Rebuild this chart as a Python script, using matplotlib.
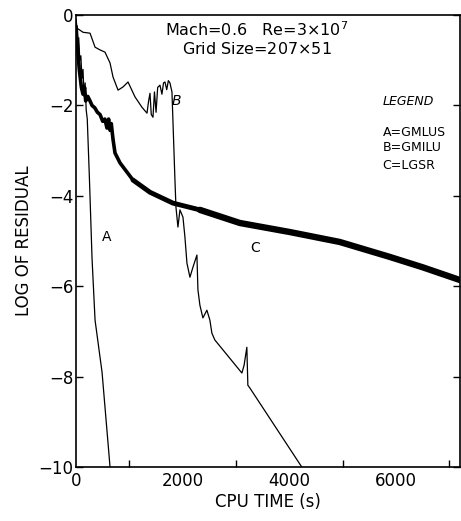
import matplotlib.pyplot as plt
import numpy as np

# curve A = GMLUS
a_t = [0, 30, 50, 70, 90, 110, 130, 150, 170, 190, 210, 250, 300, 356, 487, 637]
a_r = [-0.25, -0.6, -0.5, -1.0, -0.9, -1.4, -1.2, -1.8, -1.5, -2.1, -2.3, -3.6, -5.4, -6.75, -7.9, -10.0]

# curve B = GMILU
b_t = [0, 19, 131, 262, 356, 449, 543, 637, 693, 787, 880, 974, 1105, 1236, 1330,
       1360, 1386, 1410, 1442, 1470, 1500, 1530, 1573, 1610, 1640, 1667, 1700, 1730, 1760, 1798,
       1854, 1873, 1910, 1948, 2004, 2041, 2079, 2135, 2191, 2266, 2285, 2322, 2378, 2453,
       2509, 2547, 2603, 3109, 3150, 3202, 3221, 3258, 4232]
b_r = [-0.1, -0.29, -0.38, -0.40, -0.71, -0.77, -0.82, -1.06, -1.37, -1.66, -1.59, -1.48, -1.81, -2.04, -2.17,
       -1.9, -1.73, -2.2, -2.26, -1.7, -2.15, -1.6, -1.55, -1.75, -1.5, -1.48, -1.65, -1.45, -1.50, -1.70,
       -3.65, -4.25, -4.69, -4.31, -4.47, -4.91, -5.49, -5.80, -5.58, -5.31, -6.08, -6.42, -6.70, -6.53,
       -6.75, -7.04, -7.19, -7.92, -7.75, -7.35, -8.19, -8.25, -10.0]

# curve C = LGSR
c_t = [0, 20, 40, 60, 80, 100, 130, 160, 180, 220, 262, 300, 350, 400, 449, 500, 540, 580,
       610, 637, 660, 693, 730, 824, 1067, 1386, 1816, 2322, 3071, 4007, 4944, 5880, 6498, 7191]
c_r = [-0.25, -0.6, -0.9, -1.2, -1.4, -1.6, -1.75, -1.6, -1.9, -1.8, -1.9, -2.0, -2.05, -2.15, -2.2, -2.35, -2.3, -2.5,
       -2.3, -2.55, -2.4, -2.75, -3.05, -3.27, -3.65, -3.92, -4.16, -4.31, -4.60, -4.80, -5.02, -5.35, -5.58, -5.86]

plt.rcParams.update({
    "font.family": "DejaVu Sans",
    "font.size": 12,
    "axes.linewidth": 1.2,
    "xtick.direction": "in",
    "ytick.direction": "in",
})

fig = plt.figure(figsize=(4.61, 5.21), dpi=100)
ax = fig.add_axes([0.165, 0.1036, 0.833, 0.8674])

# the LGSR band is thin while noisy, and widens later on
k1 = c_t.index(1067)
k2 = c_t.index(2322)
for i0, i1, w in [(0, k1, 2.6), (k1, k2, 3.5), (k2, len(c_t) - 1, 4.6)]:
    ax.plot(c_t[i0:i1 + 1], c_r[i0:i1 + 1], color='black', lw=w,
            solid_joinstyle='round', solid_capstyle='round')
ax.plot(a_t, a_r, color='black', lw=0.9)
ax.plot(b_t, b_r, color='black', lw=0.9)

ax.set_xlim(0, 7200)
ax.set_ylim(-10, 0)
ax.set_xticks([0, 2000, 4000, 6000])
ax.set_xticks(np.arange(1000, 7001, 1000), minor=True)
ax.set_yticks([0, -2, -4, -6, -8, -10])
ax.tick_params(which='both', length=5, width=1, right=True)
ax.tick_params(axis='x', which='major', length=0)
ax.tick_params(axis='y', pad=2)

ax.set_xlabel('CPU TIME (s)', labelpad=2)
ax.set_ylabel('LOG OF RESIDUAL', labelpad=4)

ax.text(0.47, 0.968, r'Mach=0.6   Re=3$\times$10$^7$', transform=ax.transAxes,
        ha='center', va='center', fontsize=11.5)
ax.text(0.47, 0.924, r'Grid Size=207$\times$51', transform=ax.transAxes,
        ha='center', va='center', fontsize=11.5)

ax.text(1800, -1.9, 'B', fontsize=10, style='italic', va='center', ha='left')
ax.text(580, -4.9, 'A', fontsize=10, va='center', ha='center')
ax.text(3350, -5.15, 'C', fontsize=10, va='center', ha='center')

ax.text(5740, -1.92, 'LEGEND', fontsize=9, style='italic', va='center', ha='left')
ax.text(5750, -2.59, 'A=GMLUS', fontsize=9, va='center', ha='left')
ax.text(5750, -2.94, 'B=GMILU', fontsize=9, va='center', ha='left')
ax.text(5750, -3.32, 'C=LGSR', fontsize=9, va='center', ha='left')

fig.savefig('out.png', dpi=100)
